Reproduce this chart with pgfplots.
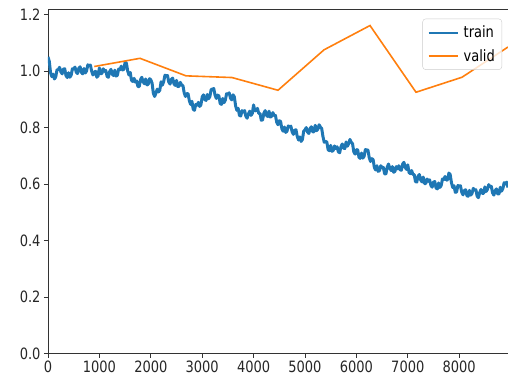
\documentclass[border=0pt]{standalone}
\usepackage{pgfplots}
\pgfplotsset{compat=1.18}
\usepackage{fontspec}
\setmainfont{DejaVu Sans}
\definecolor{tabblue}{HTML}{1F77B4}
\definecolor{taborange}{HTML}{FF7F0E}
\newcommand{\tl}[1]{\scalebox{1}[1.2]{#1}}
\begin{document}
\begin{tikzpicture}
\useasboundingbox (-48pt,-29.7pt) rectangle (460pt,353.7pt);
\begin{axis}[
  at={(0,0)}, anchor=south west,
  scale only axis, width=460pt, height=344pt,
  xmin=0, xmax=8950, ymin=0, ymax=1.217,
  xtick={0,1000,2000,3000,4000,5000,6000,7000,8000},
  ytick={0,0.2,0.4,0.6,0.8,1.0,1.2},
  xtick pos=left, ytick pos=left,
  tick align=outside, major tick length=4pt,
  tick style={black!80, line width=0.8pt},
  axis line style={black!80, line width=0.8pt},
  tick label style={font=\fontsize{13}{14}\selectfont, text=black!85},
  xticklabel={\tl{\pgfmathprintnumber[assume math mode=true,1000 sep={}]{\tick}}},
  yticklabel={\tl{\pgfmathprintnumber[assume math mode=true,fixed,fixed zerofill,precision=1]{\tick}}},
  scaled ticks=false,
  legend style={at={(1,1)}, anchor=north east, xshift=-6pt, yshift=-9pt,
    draw=black!20, rounded corners=3pt, fill=white, fill opacity=0.8, text opacity=1,
    font=\fontsize{13}{14}\selectfont, cells={anchor=west}, inner sep=5pt, row sep=6pt, column sep=3pt},
  legend image code/.code={\draw[#1] (0pt,0pt) -- (29pt,0pt);},
]
\addplot[tabblue, line width=3pt, line join=round, forget plot] coordinates {
(0,1.050)(25,1.034)(50,0.994)(75,0.980)(100,0.989)(125,0.972)(150,0.979)(175,1.004)(200,1.005)(225,1.013)
(250,0.997)(275,0.990)(300,1.007)(325,1.008)(350,0.984)(375,0.977)(400,0.994)(425,0.978)(450,0.985)(475,1.008)
(500,1.007)(525,1.014)(550,0.996)(575,0.991)(600,1.010)(625,1.015)(650,0.995)(675,0.990)(700,1.009)(725,0.993)
(750,1.000)(775,1.022)(800,1.019)(825,1.021)(850,0.999)(875,0.986)(900,0.996)(925,0.999)(950,0.978)(975,0.983)
(1000,1.011)(1025,0.990)(1050,0.992)(1075,1.008)(1100,0.999)(1125,1.002)(1150,0.981)(1175,0.978)(1200,0.998)(1225,1.006)
(1250,0.989)(1275,0.984)(1300,1.003)(1325,0.982)(1350,0.985)(1375,1.007)(1400,1.005)(1425,1.017)(1450,1.004)(1475,1.006)
(1500,1.031)(1525,1.028)(1550,1.001)(1575,0.986)(1600,0.995)(1625,0.967)(1650,0.963)(1675,0.974)(1700,0.961)(1725,0.965)
(1750,0.945)(1775,0.945)(1800,0.969)(1825,0.978)(1850,0.962)(1875,0.955)(1900,0.972)(1925,0.951)(1950,0.953)(1975,0.973)
(2000,0.969)(2025,0.957)(2050,0.921)(2075,0.910)(2100,0.922)(2125,0.936)(2150,0.926)(2175,0.932)(2200,0.962)(2225,0.950)
(2250,0.962)(2275,0.985)(2300,0.983)(2325,0.984)(2350,0.961)(2375,0.954)(2400,0.970)(2425,0.975)(2450,0.955)(2475,0.949)
(2500,0.967)(2525,0.945)(2550,0.946)(2575,0.960)(2600,0.950)(2625,0.949)(2650,0.923)(2675,0.910)(2700,0.920)(2725,0.920)
(2750,0.895)(2775,0.882)(2800,0.893)(2825,0.865)(2850,0.861)(2875,0.882)(2900,0.879)(2925,0.889)(2950,0.875)(2975,0.880)
(3000,0.908)(3025,0.916)(3050,0.899)(3075,0.896)(3100,0.917)(3125,0.902)(3150,0.910)(3175,0.935)(3200,0.936)(3225,0.938)
(3250,0.915)(3275,0.903)(3300,0.915)(3325,0.912)(3350,0.885)(3375,0.882)(3400,0.903)(3425,0.888)(3450,0.897)(3475,0.920)
(3500,0.918)(3525,0.923)(3550,0.904)(3575,0.898)(3600,0.916)(3625,0.909)(3650,0.877)(3675,0.861)(3700,0.868)(3725,0.843)
(3750,0.841)(3775,0.860)(3800,0.855)(3825,0.860)(3850,0.840)(3875,0.833)(3900,0.849)(3925,0.858)(3950,0.843)(3975,0.850)
(4000,0.880)(4025,0.859)(4050,0.861)(4075,0.868)(4100,0.850)(4125,0.850)(4150,0.826)(4175,0.827)(4200,0.851)(4225,0.860)
(4250,0.844)(4275,0.839)(4300,0.858)(4325,0.837)(4350,0.840)(4375,0.853)(4400,0.842)(4425,0.843)(4450,0.819)(4475,0.810)
(4500,0.824)(4525,0.822)(4550,0.796)(4575,0.787)(4600,0.802)(4625,0.783)(4650,0.787)(4675,0.806)(4700,0.801)(4725,0.805)
(4750,0.785)(4775,0.776)(4800,0.791)(4825,0.792)(4850,0.768)(4875,0.756)(4900,0.767)(4925,0.751)(4950,0.758)(4975,0.787)
(5000,0.792)(5025,0.800)(5050,0.784)(5075,0.779)(5100,0.797)(5125,0.803)(5150,0.785)(5175,0.785)(5200,0.808)(5225,0.789)
(5250,0.794)(5275,0.810)(5300,0.802)(5325,0.797)(5350,0.768)(5375,0.748)(5400,0.751)(5425,0.749)(5450,0.722)(5475,0.718)
(5500,0.737)(5525,0.716)(5550,0.719)(5575,0.735)(5600,0.726)(5625,0.732)(5650,0.714)(5675,0.711)(5700,0.732)(5725,0.742)
(5750,0.727)(5775,0.726)(5800,0.749)(5825,0.734)(5850,0.743)(5875,0.758)(5900,0.748)(5925,0.743)(5950,0.714)(5975,0.706)
(6000,0.722)(6025,0.721)(6050,0.695)(6075,0.691)(6100,0.710)(6125,0.692)(6150,0.698)(6175,0.722)(6200,0.721)(6225,0.720)
(6250,0.694)(6275,0.680)(6300,0.690)(6325,0.687)(6350,0.659)(6375,0.650)(6400,0.665)(6425,0.645)(6450,0.648)(6475,0.665)
(6500,0.658)(6525,0.659)(6550,0.636)(6575,0.636)(6600,0.660)(6625,0.671)(6650,0.657)(6675,0.648)(6700,0.662)(6725,0.642)
(6750,0.645)(6775,0.662)(6800,0.654)(6825,0.665)(6850,0.651)(6875,0.649)(6900,0.671)(6925,0.677)(6950,0.659)(6975,0.652)
(7000,0.668)(7025,0.641)(7050,0.637)(7075,0.648)(7100,0.634)(7125,0.634)(7150,0.609)(7175,0.607)(7200,0.628)(7225,0.634)
(7250,0.615)(7275,0.608)(7300,0.625)(7325,0.602)(7350,0.602)(7375,0.618)(7400,0.610)(7425,0.615)(7450,0.595)(7475,0.589)
(7500,0.607)(7525,0.609)(7550,0.586)(7575,0.583)(7600,0.604)(7625,0.588)(7650,0.595)(7675,0.618)(7700,0.616)(7725,0.627)
(7750,0.614)(7775,0.615)(7800,0.639)(7825,0.634)(7850,0.605)(7875,0.588)(7900,0.594)(7925,0.571)(7950,0.572)(7975,0.595)
(8000,0.593)(8025,0.594)(8050,0.571)(8075,0.562)(8100,0.577)(8125,0.580)(8150,0.559)(8175,0.557)(8200,0.578)(8225,0.561)
(8250,0.567)(8275,0.585)(8300,0.578)(8325,0.580)(8350,0.557)(8375,0.552)(8400,0.571)(8425,0.581)(8450,0.567)(8475,0.567)
(8500,0.590)(8525,0.574)(8550,0.581)(8575,0.598)(8600,0.591)(8625,0.592)(8650,0.569)(8675,0.561)(8700,0.577)(8725,0.583)
(8750,0.565)(8775,0.565)(8800,0.589)(8825,0.575)(8850,0.584)(8875,0.605)(8900,0.601)(8925,0.607)(8950,0.588)
};
\addlegendimage{tabblue, line width=2pt}
\addlegendentry{\tl{train}}
\addplot[taborange, line width=1.6pt] coordinates {
(900,1.016)(1790,1.045)(2685,0.983)(3580,0.977)(4475,0.932)(5370,1.075)(6265,1.161)(7160,0.925)(8055,0.978)(8950,1.085)
};
\addlegendentry{\tl{valid}}
\end{axis}
\end{tikzpicture}
\end{document}
